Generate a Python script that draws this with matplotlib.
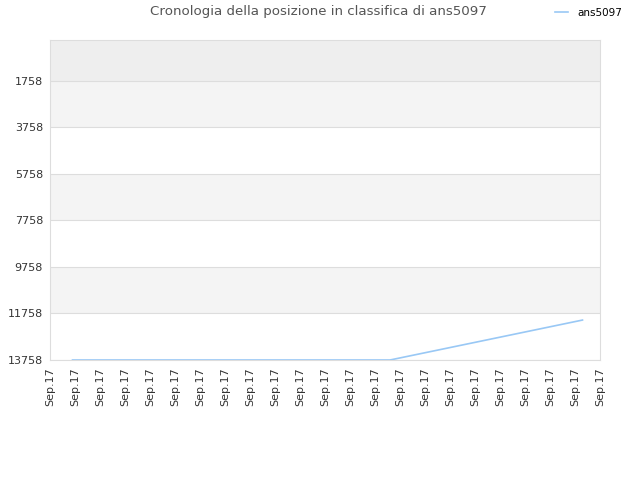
import matplotlib
matplotlib.use("Agg")
import matplotlib.pyplot as plt

title = "Cronologia della posizione in classifica di ans5097"
series_name = "ans5097"
x_ticks = list(range(23))
x_tick_labels = ["Sep.17"] * 23
y_ticks = [1758, 3758, 5758, 7758, 9758, 11758, 13758]
x_vals = [0.9, 13.6, 21.3]
ranks = [13758, 13758, 12040]

fig = plt.figure(figsize=(6.4, 4.8), dpi=100)
ax = fig.add_axes([50/640, 1-360/480, 550/640, 320/480])
ytop = -5
ybot = 13758
ax.set_ylim(ybot, ytop)
ax.set_xlim(0, 22)

# bands
ax.axhspan(ytop, y_ticks[0], color="#eeeeee", zorder=0, lw=0)
for i in range(len(y_ticks)-1):
    c = "#f4f4f4" if i % 2 == 0 else "#ffffff"
    ax.axhspan(y_ticks[i], y_ticks[i+1], color=c, zorder=0, lw=0)
for yt in y_ticks:
    ax.axhline(yt, color="#dddddd", lw=0.8, zorder=1)

ax.plot(x_vals, ranks, color="#99c8f5", lw=1.2, zorder=3, label=series_name)

ax.set_yticks(y_ticks)
ax.set_yticklabels([str(v) for v in y_ticks], fontsize=8, color="#333333")
ax.set_xticks(x_ticks)
ax.set_xticklabels(x_tick_labels, rotation=90, fontsize=8, color="#333333")
ax.tick_params(length=0, pad=5)
for s in ax.spines.values():
    s.set_color("#dddddd")
    s.set_linewidth(0.8)

fig.text(0.497, 1-12/480, title, ha="center", va="center", fontsize=9.6, color="#555555")
leg = fig.legend(loc="center left", bbox_to_anchor=(546/640, 1-13/480), frameon=False,
                 fontsize=7.5, handlelength=1.2, handletextpad=0.9)
plt.savefig("out.png", dpi=100)
